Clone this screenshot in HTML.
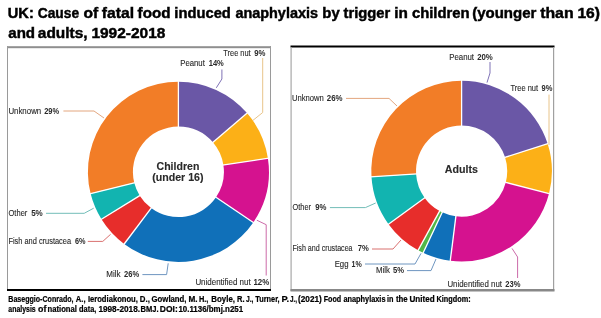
<!DOCTYPE html>
<html><head><meta charset="utf-8"><style>
html,body{margin:0;padding:0;background:#fff;width:601px;height:318px;overflow:hidden}
svg{display:block;font-family:"Liberation Sans", sans-serif;will-change:transform;filter:blur(0.3px)}
</style></head><body>
<svg width="601" height="318" viewBox="0 0 601 318">
<g font-weight="bold" fill="#000" stroke="#000" stroke-width="0.45"><text x="7.82" y="17.5" font-size="14.6" textLength="25.98" lengthAdjust="spacingAndGlyphs">UK:</text><text x="37.73" y="17.5" font-size="14.6" textLength="41.44" lengthAdjust="spacingAndGlyphs">Cause</text><text x="83.59" y="17.5" font-size="14.6" textLength="14.68" lengthAdjust="spacingAndGlyphs">of</text><text x="101.83" y="17.5" font-size="14.6" textLength="32.18" lengthAdjust="spacingAndGlyphs">fatal</text><text x="137.64" y="17.5" font-size="14.6" textLength="32.86" lengthAdjust="spacingAndGlyphs">food</text><text x="174.37" y="17.5" font-size="14.6" textLength="56.50" lengthAdjust="spacingAndGlyphs">induced</text><text x="235.38" y="17.5" font-size="14.6" textLength="82.61" lengthAdjust="spacingAndGlyphs">anaphylaxis</text><text x="322.32" y="17.5" font-size="14.6" textLength="17.36" lengthAdjust="spacingAndGlyphs">by</text><text x="343.52" y="17.5" font-size="14.6" textLength="46.70" lengthAdjust="spacingAndGlyphs">trigger</text><text x="394.33" y="17.5" font-size="14.6" textLength="13.62" lengthAdjust="spacingAndGlyphs">in</text><text x="411.92" y="17.5" font-size="14.6" textLength="57.70" lengthAdjust="spacingAndGlyphs">children</text><text x="472.15" y="17.5" font-size="14.6" textLength="64.28" lengthAdjust="spacingAndGlyphs">(younger</text><text x="540.21" y="17.5" font-size="14.6" textLength="33.37" lengthAdjust="spacingAndGlyphs">than</text><text x="577.42" y="17.5" font-size="14.6" textLength="22.56" lengthAdjust="spacingAndGlyphs">16)</text><text x="8.26" y="38.2" font-size="14.6" textLength="26.84" lengthAdjust="spacingAndGlyphs">and</text><text x="37.85" y="38.2" font-size="14.6" textLength="49.79" lengthAdjust="spacingAndGlyphs">adults,</text><text x="91.43" y="38.2" font-size="14.6" textLength="73.95" lengthAdjust="spacingAndGlyphs">1992-2018</text></g>
<rect x="7" y="46.2" width="264" height="2" fill="#8f8f8f"/>
<rect x="7" y="46" width="1" height="244" fill="#9a9a9a"/>
<rect x="270" y="46" width="1" height="244" fill="#9a9a9a"/>
<rect x="7" y="289" width="264" height="2" fill="#000"/>
<rect x="290.5" y="45.5" width="264" height="2" fill="#000"/>
<rect x="290.5" y="47" width="1.2" height="244" fill="#a8a8a8"/>
<rect x="553" y="47" width="1.2" height="244" fill="#a0a0a0"/>
<rect x="290.5" y="289" width="264" height="2.5" fill="#888"/>
<g transform="translate(178.4,171.8) scale(1.0045,1) translate(-178.4,-171.8)"><path d="M178.40,81.70A90.1,90.1 0 0 1 246.71,113.05L212.74,142.26A45.3,45.3 0 0 0 178.40,126.50Z" fill="#6a57a6"/>
<path d="M246.71,113.05A90.1,90.1 0 0 1 267.49,158.33L223.19,165.03A45.3,45.3 0 0 0 212.74,142.26Z" fill="#fcb017"/>
<path d="M267.49,158.33A90.1,90.1 0 0 1 252.92,222.44L215.87,197.26A45.3,45.3 0 0 0 223.19,165.03Z" fill="#d5128f"/>
<path d="M252.92,222.44A90.1,90.1 0 0 1 124.43,243.95L151.26,208.07A45.3,45.3 0 0 0 215.87,197.26Z" fill="#1070b9"/>
<path d="M124.43,243.95A90.1,90.1 0 0 1 101.82,219.28L139.90,195.67A45.3,45.3 0 0 0 151.26,208.07Z" fill="#e72d2b"/>
<path d="M101.82,219.28A90.1,90.1 0 0 1 90.98,193.60L134.45,182.76A45.3,45.3 0 0 0 139.90,195.67Z" fill="#12b4b0"/>
<path d="M90.98,193.60A90.1,90.1 0 0 1 178.40,81.70L178.40,126.50A45.3,45.3 0 0 0 134.45,182.76Z" fill="#f27d27"/>
<line x1="178.40" y1="80.70" x2="178.40" y2="127.50" stroke="#fff" stroke-width="1.3"/>
<line x1="247.47" y1="112.39" x2="211.99" y2="142.91" stroke="#fff" stroke-width="1.3"/>
<line x1="268.48" y1="158.18" x2="222.20" y2="165.18" stroke="#fff" stroke-width="1.3"/>
<line x1="253.75" y1="223.01" x2="215.04" y2="196.70" stroke="#fff" stroke-width="1.3"/>
<line x1="123.83" y1="244.75" x2="151.86" y2="207.27" stroke="#fff" stroke-width="1.3"/>
<line x1="100.97" y1="219.81" x2="140.75" y2="195.14" stroke="#fff" stroke-width="1.3"/>
<line x1="90.01" y1="193.84" x2="135.42" y2="182.52" stroke="#fff" stroke-width="1.3"/></g>
<path d="M461.60,80.80A90.3,90.3 0 0 1 547.67,143.80L505.07,157.31A45.6,45.6 0 0 0 461.60,125.50Z" fill="#6a57a6"/>
<path d="M547.67,143.80A90.3,90.3 0 0 1 549.06,193.56L505.77,182.44A45.6,45.6 0 0 0 505.07,157.31Z" fill="#fcb017"/>
<path d="M549.06,193.56A90.3,90.3 0 0 1 450.28,260.69L455.88,216.34A45.6,45.6 0 0 0 505.77,182.44Z" fill="#d5128f"/>
<path d="M450.28,260.69A90.3,90.3 0 0 1 423.15,252.81L442.18,212.36A45.6,45.6 0 0 0 455.88,216.34Z" fill="#1070b9"/>
<path d="M423.15,252.81A90.3,90.3 0 0 1 418.10,250.23L439.63,211.06A45.6,45.6 0 0 0 442.18,212.36Z" fill="#52b748"/>
<path d="M418.10,250.23A90.3,90.3 0 0 1 388.55,224.18L424.71,197.90A45.6,45.6 0 0 0 439.63,211.06Z" fill="#e72d2b"/>
<path d="M388.55,224.18A90.3,90.3 0 0 1 371.48,176.77L416.09,173.96A45.6,45.6 0 0 0 424.71,197.90Z" fill="#12b4b0"/>
<path d="M371.48,176.77A90.3,90.3 0 0 1 461.60,80.80L461.60,125.50A45.6,45.6 0 0 0 416.09,173.96Z" fill="#f27d27"/>
<line x1="461.60" y1="79.80" x2="461.60" y2="126.50" stroke="#fff" stroke-width="1.3"/>
<line x1="548.63" y1="143.49" x2="504.11" y2="157.61" stroke="#fff" stroke-width="1.3"/>
<line x1="550.03" y1="193.81" x2="504.80" y2="182.19" stroke="#fff" stroke-width="1.3"/>
<line x1="450.16" y1="261.68" x2="456.01" y2="215.35" stroke="#fff" stroke-width="1.3"/>
<line x1="422.73" y1="253.71" x2="442.61" y2="211.46" stroke="#fff" stroke-width="1.3"/>
<line x1="417.62" y1="251.11" x2="440.11" y2="210.18" stroke="#fff" stroke-width="1.3"/>
<line x1="387.74" y1="224.76" x2="425.52" y2="197.32" stroke="#fff" stroke-width="1.3"/>
<line x1="370.48" y1="176.83" x2="417.09" y2="173.90" stroke="#fff" stroke-width="1.3"/>
<g font-weight="bold" fill="#2a2a2a" stroke="#2a2a2a" stroke-width="0.12"><text x="156.57" y="170.4" font-size="10.3" textLength="42.79" lengthAdjust="spacingAndGlyphs">Children</text><text x="152.27" y="180.7" font-size="10.3" textLength="51.26" lengthAdjust="spacingAndGlyphs">(under 16)</text><text x="444.83" y="172.9" font-size="10.3" textLength="33.20" lengthAdjust="spacingAndGlyphs">Adults</text></g>
<text x="223.34" y="55.5" font-size="8.2" fill="#2a2a2a" stroke="#2a2a2a" stroke-width="0.12" textLength="27.32" lengthAdjust="spacingAndGlyphs">Tree nut</text><text x="254.23" y="55.5" font-size="8.2" font-weight="bold" fill="#2a2a2a" textLength="11.28" lengthAdjust="spacingAndGlyphs">9%</text>
<polyline points="262.7,58 262.7,112.5 253,120.3" fill="none" stroke="#e8c48a" stroke-width="1.0"/>
<text x="180.26" y="66.4" font-size="8.2" fill="#2a2a2a" stroke="#2a2a2a" stroke-width="0.12" textLength="24.59" lengthAdjust="spacingAndGlyphs">Peanut</text><text x="208.73" y="66.4" font-size="8.2" font-weight="bold" fill="#2a2a2a" textLength="15.07" lengthAdjust="spacingAndGlyphs">14%</text>
<polyline points="221.9,69.5 221.9,79 216.3,87.8" fill="none" stroke="#7f72b6" stroke-width="1.0"/>
<text x="8.39" y="114" font-size="8.2" fill="#2a2a2a" stroke="#2a2a2a" stroke-width="0.12" textLength="32.82" lengthAdjust="spacingAndGlyphs">Unknown</text><text x="44.14" y="114" font-size="8.2" font-weight="bold" fill="#2a2a2a" textLength="14.96" lengthAdjust="spacingAndGlyphs">29%</text>
<polyline points="63.4,111 94,111 104,118" fill="none" stroke="#e3a67f" stroke-width="1.0"/>
<text x="8.54" y="215.8" font-size="8.2" fill="#2a2a2a" stroke="#2a2a2a" stroke-width="0.12" textLength="18.78" lengthAdjust="spacingAndGlyphs">Other</text><text x="31.15" y="215.8" font-size="8.2" font-weight="bold" fill="#2a2a2a" textLength="11.66" lengthAdjust="spacingAndGlyphs">5%</text>
<polyline points="46,213.3 84.2,213.3 93.7,208.2" fill="none" stroke="#72bdb8" stroke-width="1.0"/>
<text x="8.39" y="244.3" font-size="8.2" fill="#2a2a2a" stroke="#2a2a2a" stroke-width="0.12" textLength="62.71" lengthAdjust="spacingAndGlyphs">Fish and crustacea</text><text x="74.93" y="244.3" font-size="8.2" font-weight="bold" fill="#2a2a2a" textLength="10.56" lengthAdjust="spacingAndGlyphs">6%</text>
<polyline points="87.8,241.4 102.8,241.4 110.6,234.3" fill="none" stroke="#d9706f" stroke-width="1.0"/>
<text x="106.34" y="277" font-size="8.2" fill="#2a2a2a" stroke="#2a2a2a" stroke-width="0.12" textLength="14.25" lengthAdjust="spacingAndGlyphs">Milk</text><text x="124.04" y="277" font-size="8.2" font-weight="bold" fill="#2a2a2a" textLength="15.16" lengthAdjust="spacingAndGlyphs">26%</text>
<polyline points="142.4,274.6 166.6,274.6 168.2,263.3" fill="none" stroke="#6f96c0" stroke-width="1.0"/>
<text x="195.39" y="285" font-size="8.2" fill="#2a2a2a" stroke="#2a2a2a" stroke-width="0.12" textLength="55.27" lengthAdjust="spacingAndGlyphs">Unidentified nut</text><text x="253.40" y="285" font-size="8.2" font-weight="bold" fill="#2a2a2a" textLength="15.81" lengthAdjust="spacingAndGlyphs">12%</text>
<polyline points="256.8,220.2 266.2,224.7 266.2,275.5" fill="none" stroke="#cc6aa9" stroke-width="1.0"/>
<text x="449.26" y="60" font-size="8.2" fill="#2a2a2a" stroke="#2a2a2a" stroke-width="0.12" textLength="24.80" lengthAdjust="spacingAndGlyphs">Peanut</text><text x="477.13" y="60" font-size="8.2" font-weight="bold" fill="#2a2a2a" textLength="15.68" lengthAdjust="spacingAndGlyphs">20%</text>
<polyline points="490,62 490,73 487,82.6" fill="none" stroke="#7f72b6" stroke-width="1.0"/>
<text x="510.43" y="90.5" font-size="8.2" fill="#2a2a2a" stroke="#2a2a2a" stroke-width="0.12" textLength="27.62" lengthAdjust="spacingAndGlyphs">Tree nut</text><text x="541.54" y="90.5" font-size="8.2" font-weight="bold" fill="#2a2a2a" textLength="10.86" lengthAdjust="spacingAndGlyphs">9%</text>
<polyline points="549,94.6 549,145" fill="none" stroke="#e8c48a" stroke-width="1.0"/>
<text x="291.91" y="101.2" font-size="8.2" fill="#2a2a2a" stroke="#2a2a2a" stroke-width="0.12" textLength="31.99" lengthAdjust="spacingAndGlyphs">Unknown</text><text x="326.83" y="101.2" font-size="8.2" font-weight="bold" fill="#2a2a2a" textLength="15.78" lengthAdjust="spacingAndGlyphs">26%</text>
<polyline points="346,98.4 389,98.4 397,106" fill="none" stroke="#e3a67f" stroke-width="1.0"/>
<text x="292.55" y="210.4" font-size="8.2" fill="#2a2a2a" stroke="#2a2a2a" stroke-width="0.12" textLength="18.37" lengthAdjust="spacingAndGlyphs">Other</text><text x="315.13" y="210.4" font-size="8.2" font-weight="bold" fill="#2a2a2a" textLength="11.28" lengthAdjust="spacingAndGlyphs">9%</text>
<polyline points="329.9,207.6 365.4,207.6 375.7,203" fill="none" stroke="#72bdb8" stroke-width="1.0"/>
<text x="292.42" y="251.2" font-size="8.2" fill="#2a2a2a" stroke="#2a2a2a" stroke-width="0.12" textLength="60.18" lengthAdjust="spacingAndGlyphs">Fish and crustacea</text><text x="357.77" y="251.2" font-size="8.2" font-weight="bold" fill="#2a2a2a" textLength="11.03" lengthAdjust="spacingAndGlyphs">7%</text>
<polyline points="372,249 393,249 401,240" fill="none" stroke="#d9706f" stroke-width="1.0"/>
<text x="334.66" y="266.6" font-size="8.2" fill="#2a2a2a" stroke="#2a2a2a" stroke-width="0.12" textLength="13.84" lengthAdjust="spacingAndGlyphs">Egg</text><text x="351.55" y="266.6" font-size="8.2" font-weight="bold" fill="#2a2a2a" textLength="10.23" lengthAdjust="spacingAndGlyphs">1%</text>
<polyline points="365,264 415,264 421,253.4" fill="none" stroke="#6f96c0" stroke-width="1.0"/>
<text x="375.96" y="273.1" font-size="8.2" fill="#2a2a2a" stroke="#2a2a2a" stroke-width="0.12" textLength="13.93" lengthAdjust="spacingAndGlyphs">Milk</text><text x="393.07" y="273.1" font-size="8.2" font-weight="bold" fill="#2a2a2a" textLength="11.04" lengthAdjust="spacingAndGlyphs">5%</text>
<polyline points="407,270.6 431,270.6 436,259" fill="none" stroke="#6f96c0" stroke-width="1.0"/>
<text x="447.39" y="286.5" font-size="8.2" fill="#2a2a2a" stroke="#2a2a2a" stroke-width="0.12" textLength="54.56" lengthAdjust="spacingAndGlyphs">Unidentified nut</text><text x="505.24" y="286.5" font-size="8.2" font-weight="bold" fill="#2a2a2a" textLength="15.16" lengthAdjust="spacingAndGlyphs">23%</text>
<polyline points="512,248.4 517.6,257 517.6,278" fill="none" stroke="#cc6aa9" stroke-width="1.0"/>
<g font-weight="bold" fill="#000" stroke="#000" stroke-width="0.22"><text x="8.33" y="302.1" font-size="8.3" textLength="65.15" lengthAdjust="spacingAndGlyphs">Baseggio-Conrado,</text><text x="75.81" y="302.1" font-size="8.3" textLength="9.70" lengthAdjust="spacingAndGlyphs">A.,</text><text x="87.89" y="302.1" font-size="8.3" textLength="50.02" lengthAdjust="spacingAndGlyphs">Ierodiakonou,</text><text x="139.87" y="302.1" font-size="8.3" textLength="10.05" lengthAdjust="spacingAndGlyphs">D.,</text><text x="151.58" y="302.1" font-size="8.3" textLength="34.94" lengthAdjust="spacingAndGlyphs">Gowland,</text><text x="188.45" y="302.1" font-size="8.3" textLength="9.11" lengthAdjust="spacingAndGlyphs">M.</text><text x="198.90" y="302.1" font-size="8.3" textLength="9.49" lengthAdjust="spacingAndGlyphs">H.,</text><text x="211.37" y="302.1" font-size="8.3" textLength="23.65" lengthAdjust="spacingAndGlyphs">Boyle,</text><text x="237.00" y="302.1" font-size="8.3" textLength="7.52" lengthAdjust="spacingAndGlyphs">R.</text><text x="245.90" y="302.1" font-size="8.3" textLength="7.56" lengthAdjust="spacingAndGlyphs">J.,</text><text x="255.32" y="302.1" font-size="8.3" textLength="24.35" lengthAdjust="spacingAndGlyphs">Turner,</text><text x="281.46" y="302.1" font-size="8.3" textLength="7.59" lengthAdjust="spacingAndGlyphs">P.</text><text x="289.90" y="302.1" font-size="8.3" textLength="7.02" lengthAdjust="spacingAndGlyphs">J.,</text><text x="298.09" y="302.1" font-size="8.3" textLength="23.72" lengthAdjust="spacingAndGlyphs">(2021)</text><text x="323.72" y="302.1" font-size="8.3" textLength="17.45" lengthAdjust="spacingAndGlyphs">Food</text><text x="343.48" y="302.1" font-size="8.3" textLength="42.02" lengthAdjust="spacingAndGlyphs">anaphylaxis</text><text x="386.99" y="302.1" font-size="8.3" textLength="6.46" lengthAdjust="spacingAndGlyphs">in</text><text x="395.90" y="302.1" font-size="8.3" textLength="11.76" lengthAdjust="spacingAndGlyphs">the</text><text x="409.51" y="302.1" font-size="8.3" textLength="25.22" lengthAdjust="spacingAndGlyphs">United</text><text x="436.51" y="302.1" font-size="8.3" textLength="34.09" lengthAdjust="spacingAndGlyphs">Kingdom:</text><text x="8.30" y="311.7" font-size="8.3" textLength="27.39" lengthAdjust="spacingAndGlyphs">analysis</text><text x="38.06" y="311.7" font-size="8.3" textLength="8.33" lengthAdjust="spacingAndGlyphs">of</text><text x="47.49" y="311.7" font-size="8.3" textLength="29.45" lengthAdjust="spacingAndGlyphs">national</text><text x="79.10" y="311.7" font-size="8.3" textLength="17.30" lengthAdjust="spacingAndGlyphs">data,</text><text x="98.38" y="311.7" font-size="8.3" textLength="41.69" lengthAdjust="spacingAndGlyphs">1998-2018.</text><text x="140.50" y="311.7" font-size="8.3" textLength="18.02" lengthAdjust="spacingAndGlyphs">BMJ.</text><text x="159.83" y="311.7" font-size="8.3" textLength="17.88" lengthAdjust="spacingAndGlyphs">DOI:</text><text x="178.40" y="311.7" font-size="8.3" textLength="64.71" lengthAdjust="spacingAndGlyphs">10.1136/bmj.n251</text></g>
</svg>
</body></html>
